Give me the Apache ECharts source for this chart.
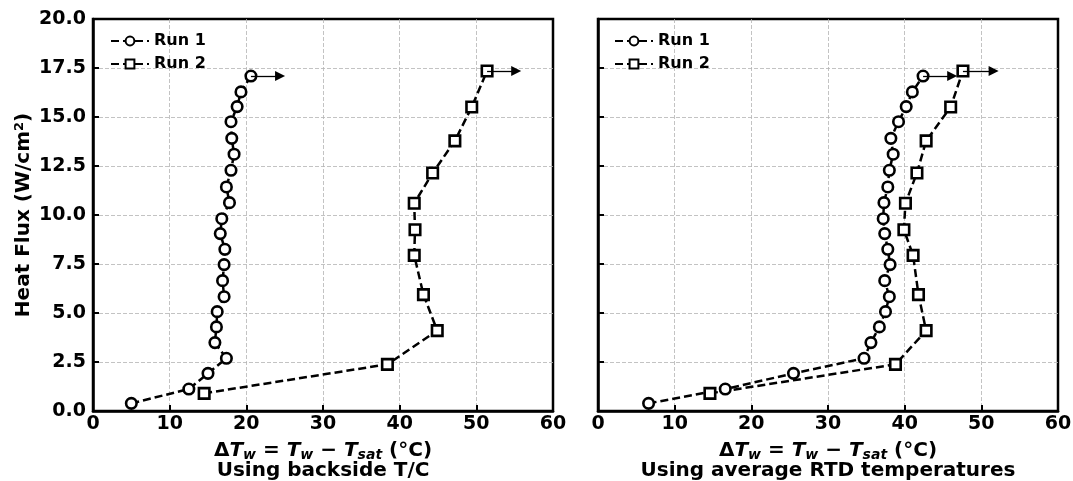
<!DOCTYPE html>
<html><head><meta charset="utf-8">
<script src="https://cdn.jsdelivr.net/npm/echarts@6/dist/echarts.min.js"></script>
<style>html,body{margin:0;padding:0;background:#fff}#c{width:1073px;height:481px}</style>
</head><body><div id="c"></div><script>
// ---- data ----
const run1Flux = [0.39,1.12,1.92,2.69,3.49,4.29,5.07,5.83,6.65,7.47,8.25,9.05,9.81,10.63,11.43,12.28,13.10,13.91,14.76,15.53,16.28,17.09];
const run2Flux = [0.90,2.38,4.10,5.94,7.94,9.25,10.60,12.14,13.78,15.51,17.35];
const leftRun1DT = [5.0,12.5,15.0,17.4,15.9,16.1,16.2,17.1,16.9,17.1,17.2,16.6,16.8,17.8,17.4,18.0,18.4,18.1,18.0,18.8,19.3,20.6];
const leftRun2DT = [14.5,38.4,44.9,43.1,41.9,42.0,41.9,44.3,47.2,49.4,51.4];
const rightRun1DT = [6.6,16.6,25.5,34.7,35.6,36.7,37.5,38.0,37.4,38.1,37.8,37.4,37.2,37.3,37.8,38.0,38.5,38.2,39.2,40.2,41.0,42.4];
const rightRun2DT = [14.6,38.8,42.8,41.8,41.1,39.9,40.1,41.6,42.8,46.0,47.6];
const leftArrowEnd = [24.4, 55.2];   // arrow tips (Run 1, Run 2)
const rightArrowEnd = [46.2, 51.6];
const seriesNames = ['Run 1','Run 2'];
const panelTitles = ['Using backside T/C','Using average RTD temperatures'];
const xRange = [0, 60, 10];
const yRange = [0, 20, 2.5];

const FONT = 'DejaVu Sans';
const chart = echarts.init(document.getElementById('c'), null, {renderer:'canvas'});

function pairs(xs, ys){ return xs.map((x,i)=>[x, ys[i]]); }

const xNameRich = {
  b:{fontFamily:FONT,fontWeight:'bold',fontSize:20,color:'#000',lineHeight:20},
  i:{fontFamily:FONT,fontWeight:'bold',fontStyle:'italic',fontSize:20,color:'#000',lineHeight:20},
  s:{fontFamily:FONT,fontWeight:'bold',fontStyle:'italic',fontSize:14,color:'#000',lineHeight:20,padding:[9,0,0,0]}
};
function xName(title){
  return '{b|Δ}{i|T}{s|w}{b| = }{i|T}{s|w}{b| − }{i|T}{s|sat}{b| (°C)}\n{b|' + title + '}';
}

function xAxis(idx){
  return {
    type:'value', gridIndex:idx, min:xRange[0], max:xRange[1], interval:xRange[2],
    name:xName(panelTitles[idx]), nameLocation:'middle', nameGap:29,
    nameTextStyle:{rich:xNameRich, align:'center'},
    axisLine:{show:true,lineStyle:{color:'#000',width:2.5}},
    axisTick:{show:true,inside:true,length:6,lineStyle:{color:'#000',width:2}},
    axisLabel:{fontFamily:FONT,fontWeight:'bold',fontSize:19,color:'#000',margin:4},
    splitLine:{show:true,showMinLine:false,showMaxLine:false,lineStyle:{color:'#b4b4b4',type:[4,2],width:0.8}}
  };
}
function yAxis(idx){
  return {
    type:'value', gridIndex:idx, min:yRange[0], max:yRange[1], interval:yRange[2],
    name: idx===0 ? '{b|Heat Flux (W/cm}{sup|2}{b|)}' : '',
    nameLocation:'middle', nameGap:58,
    nameTextStyle:{rich:{
      b:{fontFamily:FONT,fontWeight:'bold',fontSize:20,color:'#000'},
      sup:{fontFamily:FONT,fontWeight:'bold',fontSize:13,color:'#000',padding:[0,0,9,0]}
    }},
    axisLine:{show:true,lineStyle:{color:'#000',width:2.5}},
    axisTick:{show:true,inside:true,length:6,lineStyle:{color:'#000',width:2}},
    axisLabel:{show: idx===0, fontFamily:FONT,fontWeight:'bold',fontSize:19,color:'#000',margin:7,
      formatter:v=>v.toFixed(1)},
    splitLine:{show:true,showMinLine:false,showMaxLine:false,lineStyle:{color:'#b4b4b4',type:[4,2],width:0.8}}
  };
}

function arrow(x0,y0,x1){
  return {
    silent:true, animation:false, symbol:['none','triangle'], symbolSize:10,
    lineStyle:{color:'#000',type:'solid',width:1.3}, itemStyle:{color:'#000'}, label:{show:false},
    emphasis:{disabled:true},
    data:[[{coord:[x0,y0]},{coord:[x1,y0]}]]
  };
}

function lineSeries(name, idx, xs, ys, symbol, tipX){
  const last = xs.length-1;
  return {
    type:'line', name:name, xAxisIndex:idx, yAxisIndex:idx,
    data:pairs(xs,ys), symbol:symbol, symbolSize:10.5,
    showAllSymbol:true, animation:false, z:3,
    lineStyle:{color:'#000',width:2.5,type:[8,4]},
    itemStyle:{color:'#fff',borderColor:'#000',borderWidth:2.6},
    markLine: arrow(xs[last], ys[last], tipX)
  };
}

const legendBase = {
  orient:'vertical', itemWidth:38, itemHeight:11, itemGap:7,
  textStyle:{fontFamily:FONT,fontWeight:'bold',fontSize:16,color:'#000'},
  data:seriesNames, selectedMode:false
};

const gridBase = {top:19, width:460, height:392, show:true, borderColor:'#000', borderWidth:2.5,
  containLabel:false, outerBoundsMode:'none'};

chart.setOption({
  animation:false,
  backgroundColor:'#fff',
  grid:[
    Object.assign({left:93}, gridBase),
    Object.assign({left:598}, gridBase)
  ],
  legend:[
    Object.assign({left:105, top:28}, legendBase),
    Object.assign({left:609, top:28}, legendBase)
  ],
  xAxis:[xAxis(0), xAxis(1)],
  yAxis:[yAxis(0), yAxis(1)],
  series:[
    lineSeries(seriesNames[0],0,leftRun1DT,run1Flux,'circle',leftArrowEnd[0]),
    lineSeries(seriesNames[1],0,leftRun2DT,run2Flux,'rect',leftArrowEnd[1]),
    lineSeries(seriesNames[0],1,rightRun1DT,run1Flux,'circle',rightArrowEnd[0]),
    lineSeries(seriesNames[1],1,rightRun2DT,run2Flux,'rect',rightArrowEnd[1])
  ]
});
</script></body></html>
